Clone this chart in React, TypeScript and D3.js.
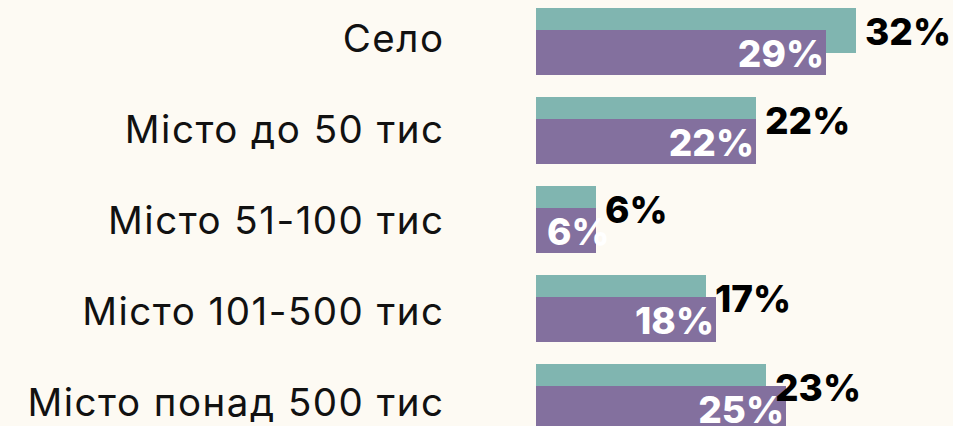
import React, { useEffect, useRef } from "react";
import * as d3 from "d3";

const categories = [
  "Село",
  "Місто до 50 тис",
  "Місто 51-100 тис",
  "Місто 101-500 тис",
  "Місто понад 500 тис",
];
const tealValues = [32, 22, 6, 17, 23];
const purpleValues = [29, 22, 6, 18, 25];

const TEAL = "#80b5b0";
const PURPLE = "#83709e";
const BG = "#fdfaf3";

const App = () => {
  const svgRef = useRef<SVGSVGElement>(null);

  useEffect(() => {
    const dims = { width: 953, height: 426 };
    const barH = 45;

    const x = d3.scaleLinear().domain([0, 100]).range([536, 1536]);
    const y = d3
      .scaleBand<string>()
      .domain(categories)
      .range([8, 431])
      .paddingInner(22 / 89)
      .paddingOuter(0);
    // label baselines sit on a slightly wider pitch than the bars
    const yLabel = d3.scalePoint<string>().domain(categories).range([52, 416]);

    const svg = d3.select(svgRef.current);
    svg.selectAll("*").remove();

    svg
      .append("rect")
      .attr("width", dims.width)
      .attr("height", dims.height)
      .attr("fill", BG);

    // category labels
    svg
      .append("g")
      .selectAll("text")
      .data(categories)
      .join("text")
      .attr("x", 443 + 1.5)
      .attr("y", (d) => yLabel(d)!)
      .attr("text-anchor", "end")
      .attr("font-family", "Inter, sans-serif")
      .attr("font-size", 38.5)
      .attr("letter-spacing", 1.5)
      .attr("fill", "#111")
      .text((d) => d);

    const rows = categories.map((c, i) => ({
      c,
      t: tealValues[i],
      p: purpleValues[i],
    }));

    const g = svg.append("g");

    // teal bars
    g.selectAll("rect.teal")
      .data(rows)
      .join("rect")
      .attr("class", "teal")
      .attr("x", x(0))
      .attr("y", (d) => y(d.c)!)
      .attr("width", (d) => x(d.t) - x(0))
      .attr("height", barH)
      .attr("fill", TEAL);

    // purple bars
    g.selectAll("rect.purple")
      .data(rows)
      .join("rect")
      .attr("class", "purple")
      .attr("x", x(0))
      .attr("y", (d) => y(d.c)! + y.bandwidth() - barH)
      .attr("width", (d) => x(d.p) - x(0))
      .attr("height", barH)
      .attr("fill", PURPLE);

    // purple value labels (white, inside)
    g.selectAll("text.plabel")
      .data(rows)
      .join("text")
      .attr("class", "plabel")
      .attr("font-family", "Inter, sans-serif")
      .attr("font-weight", 800)
      .attr("font-size", 37)
      .attr("fill", "#fff")
      .attr("y", (d) => y(d.c)! + y.bandwidth() - barH + 37)
      .text((d) => `${d.p}%`)
      .each(function (d) {
        const el = this as SVGTextElement;
        const w = el.getComputedTextLength();
        const end = x(d.p);
        if (end - x(0) < w + 11) {
          el.setAttribute("x", String(x(0) + 11));
          el.setAttribute("text-anchor", "start");
        } else {
          el.setAttribute("x", String(end - 2));
          el.setAttribute("text-anchor", "end");
        }
      });

    // teal value labels (black, outside)
    g.selectAll("text.tlabel")
      .data(rows)
      .join("text")
      .attr("class", "tlabel")
      .attr("font-family", "Inter, sans-serif")
      .attr("font-weight", 800)
      .attr("font-size", 37)
      .attr("fill", "#000")
      .attr("x", (d) => x(d.t) + 9)
      .attr("y", (d) => y(d.c)! + 37)
      .text((d) => `${d.t}%`);
  }, []);

  return (
    <svg
      ref={svgRef}
      width={953}
      height={426}
      style={{ position: "absolute", left: 0, top: 0 }}
    />
  );
};

export default App;
